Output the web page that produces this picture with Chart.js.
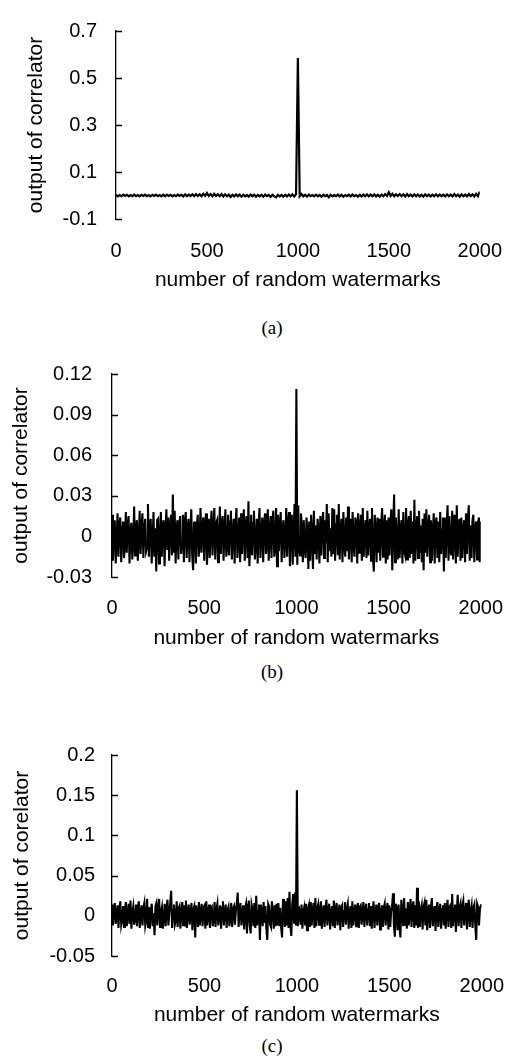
<!DOCTYPE html>
<html>
<head>
<meta charset="utf-8">
<script src="https://cdn.jsdelivr.net/npm/chart.js@4.4.1/dist/chart.umd.min.js"></script>
<style>
  body { margin: 0; background: #fff; width: 522px; height: 1061px; position: relative; overflow: hidden; }
  .box { position: absolute; left: 0; width: 522px; }
  .cap { position: absolute; left: 0; width: 544px; text-align: center; font: 19px "Liberation Serif", "Times New Roman", serif; color: #000; line-height: 1; }
</style>
</head>
<body>
<div class="box" style="top:0;height:300px"><canvas id="chartA" width="522" height="300"></canvas></div>
<div class="cap" style="top:318px">(a)</div>
<div class="box" style="top:340px;height:320px"><canvas id="chartB" width="522" height="320"></canvas></div>
<div class="cap" style="top:662px">(b)</div>
<div class="box" style="top:720px;height:310px"><canvas id="chartC" width="522" height="310"></canvas></div>
<div class="cap" style="top:1036px">(c)</div>

<script>
// x axis: number of random watermarks (0..2000)
const xTicks = [0, 500, 1000, 1500, 2000];
const xMax = 2000;

// (a) correlator output, one value read every 10 watermarks
const corrA = [
  .003,-.004,.002,-.003,.004,-.002,.003,-.004,.002,-.003,
  .004,-.003,.002,-.004,.003,-.002,.004,-.003,.002,-.004,
  .003,-.002,.004,-.003,.002,-.004,.003,-.003,.004,-.002,
  .003,-.004,.002,-.003,.004,-.002,.003,-.004,.005,-.003,
  .004,-.002,.005,-.003,.006,-.002,.005,-.003,.007,-.002,
  .010,-.002,.006,-.003,.007,-.002,.005,-.003,.006,-.004,
  .005,-.003,.004,-.006,.003,-.004,.005,-.003,.004,-.005,
  .003,-.004,.002,-.005,.004,-.003,.003,-.005,.002,-.004,
  .003,-.005,.004,-.003,.002,-.006,.003,-.004,-.008,.003,
  -.004,.002,-.005,.003,-.004,.004,-.003,.005,-.004,.006,
  .585,-.003,.006,-.004,.003,-.005,.004,-.003,.002,-.004,
  .003,-.004,.002,-.005,.003,-.003,.002,-.007,.003,-.004,
  .002,-.003,.004,-.004,.003,-.005,.002,-.003,.003,-.004,
  .004,-.003,.002,-.005,.003,-.004,.004,-.003,.005,-.004,
  .004,-.003,.005,-.004,.003,-.005,.004,-.003,.006,-.002,
  .014,-.002,.007,-.003,.005,-.002,.006,-.003,.005,-.004,
  .006,-.003,.004,-.004,.005,-.003,.004,-.004,.003,-.005,
  .005,-.003,.004,-.004,.003,-.003,.005,-.004,.004,-.003,
  .003,-.004,.005,-.003,.004,-.004,.006,-.003,.004,-.005,
  .005,-.003,.004,-.004,.006,-.003,.005,-.004,.007,-.003,
  .016
];
const yTicksA = [-0.1, 0.1, 0.3, 0.5, 0.7];

// (b) correlator output, one value read every 5 watermarks
const corrB = [
  .016,-.018,.005,.012,-.020,-.004,.017,-.015,.008,.014,-.019,.002,.011,-.016,-.007,.018,-.012,.009,.015,-.020,
  .003,.010,-.017,-.006,.022,-.014,.007,.012,-.018,-.003,.019,-.013,.006,.017,-.016,.004,.013,-.011,-.008,.024,
  -.015,.009,.013,-.020,-.005,.018,-.015,.006,-.026,.012,.013,-.020,-.002,.018,-.015,.008,.012,-.022,.004,.020,
  -.010,.014,-.018,.007,.016,-.014,.031,-.012,.019,-.020,.005,.012,-.017,.009,.015,-.013,-.004,.016,-.019,.011,
  .018,-.016,.006,.013,-.019,.003,.020,-.014,-.025,.010,.011,-.020,.008,.016,-.015,-.006,.021,-.012,.005,.014,
  -.018,.009,.017,-.021,-.004,.013,-.016,.007,.019,-.014,.003,.021,-.017,.010,.012,-.019,-.005,.022,-.013,.008,
  .015,-.018,.004,.020,-.015,-.007,.016,-.014,.011,.019,-.017,.002,.013,-.020,.009,.021,-.016,-.003,.014,-.019,
  .017,-.013,.006,.020,-.018,.008,.015,-.016,.026,-.022,-.005,.016,-.014,.010,.019,-.017,-.004,.013,-.020,.007,
  .021,-.016,.003,.014,-.019,.009,.017,-.013,-.006,.020,-.018,.004,.015,-.016,.012,.019,-.015,-.008,.021,-.022,
  .016,-.011,.008,.018,-.019,.005,.012,-.016,-.003,.021,-.015,.010,.018,-.022,.007,.016,-.021,.004,.024,-.015,
  .109,-.021,.023,-.010,-.014,.017,.006,-.019,.012,-.008,-.016,.014,.004,-.024,.011,-.018,.016,.002,-.024,.019,
  -.013,.008,-.017,.013,.004,-.020,.015,-.014,.009,.018,-.016,.012,-.005,.024,-.019,.017,-.011,.006,-.015,.021,
  -.013,.020,-.018,.009,.016,-.014,.024,-.017,.005,.013,-.019,.018,-.006,-.015,.014,-.011,.022,-.017,.008,.013,
  -.019,.018,-.004,-.015,.014,.010,-.020,.017,-.012,.006,.016,-.018,.021,-.015,.003,.012,-.016,.019,-.014,.008,
  .013,-.018,.021,-.015,-.026,.016,.005,-.019,.014,-.012,.013,-.018,.009,.021,-.015,.004,.016,-.020,.012,-.017,
  .014,-.014,.010,.020,-.025,.006,.031,-.019,.014,-.008,-.017,.020,-.016,.003,.012,-.020,.018,-.011,-.014,.021,
  -.017,.008,.015,-.016,.019,-.013,.011,-.020,.027,-.018,.004,.015,-.016,.019,-.012,.008,-.019,.013,-.025,.017,
  -.012,.020,-.015,.006,.016,-.019,.012,-.018,.003,.017,-.020,.009,.014,-.016,.011,-.019,.018,-.013,.005,.014,
  -.026,.014,-.016,.007,.023,-.018,.015,-.010,-.014,.019,-.017,.016,.004,-.020,.023,-.015,.009,.013,-.018,.014,
  -.016,.005,.012,-.019,.017,-.013,.011,.023,-.018,.008,-.016,.012,.016,-.019,.006,.011,-.017,.010,.014,-.019,
  .011
];
const yTicksB = [-0.03, 0, 0.03, 0.06, 0.09, 0.12];

// (c) correlator output, one value read every 5 watermarks
const corrC = [
  .014,-.012,.006,.016,-.010,.003,.013,-.015,.009,.018,-.011,-.004,.012,-.014,.007,.017,-.013,.002,.015,-.010,
  .019,-.016,.005,.012,-.011,-.003,.014,-.013,.008,.018,-.015,.004,.013,-.012,.010,.016,-.012,-.005,.021,-.014,
  .011,-.016,.006,.015,-.013,.003,-.024,.012,.016,-.012,.009,.021,-.014,.005,.011,-.016,-.002,.015,-.013,.008,
  .020,-.012,.004,.016,.031,-.015,.007,.014,-.011,-.006,.018,-.014,.009,.012,-.016,.004,.017,-.013,.013,-.012,
  .019,-.015,.005,.014,-.011,.002,.016,-.018,.008,.012,-.027,.013,.006,-.014,.017,-.012,.004,.015,-.013,.011,
  .013,-.016,.018,-.012,.003,.014,-.015,.009,.011,-.013,-.004,.017,-.014,.008,.015,-.012,.002,.013,-.016,.010,
  .018,-.012,.005,.014,-.015,.007,.011,-.013,-.003,.016,-.014,.009,.012,-.011,.006,.015,.029,-.014,.008,.016,
  -.012,.004,.013,-.017,.010,.015,-.022,.006,.019,-.011,-.022,.014,.008,-.013,.016,-.015,.025,-.012,.006,.014,
  -.030,.014,.004,-.013,.017,-.009,.012,-.016,-.030,.015,.012,-.011,-.014,.018,.005,-.016,.013,-.013,.015,-.012,
  .016,-.013,.010,-.015,-.027,.021,.008,-.014,.018,-.012,.022,-.015,.030,-.012,-.025,.014,.027,-.010,.029,-.012,
  .156,-.013,.012,.004,-.011,.014,-.016,.006,.011,-.012,.015,-.018,.008,.013,-.014,.017,-.012,.005,.016,-.015,
  .022,-.013,.009,.014,-.011,.006,.018,-.016,.004,.013,-.014,.010,.020,-.012,.007,.015,-.017,.003,.012,-.013,
  .019,-.015,.008,.016,-.012,.004,.014,-.018,.010,.013,-.014,.006,.017,-.011,.009,.015,-.016,.003,.012,-.015,
  .018,-.012,.005,.014,-.013,.009,.016,-.015,.011,.013,-.011,.004,.017,-.014,.006,.015,-.012,.008,.016,-.013,
  .012,-.016,.007,.018,-.015,.005,.014,-.012,.009,.016,-.017,.003,.013,-.014,.010,.015,-.012,.006,.016,-.017,
  .013,-.014,.006,.012,.028,-.012,-.026,.015,.008,-.018,.014,-.013,-.027,.020,.006,-.013,.022,-.011,.009,-.016,
  .017,-.012,.005,.021,-.014,.010,.018,-.015,.013,-.012,.035,-.015,.018,-.014,.007,.013,-.017,.011,.016,-.012,
  .020,-.018,.006,.014,-.015,.009,.022,-.013,.004,.012,-.019,.010,.017,-.014,.006,.015,-.016,.008,.013,-.012,
  .016,-.016,.005,.020,-.014,.011,.013,-.015,.027,-.013,.009,.014,-.020,.006,.026,-.013,.010,.015,-.015,.012,
  .018,-.012,.004,.016,-.017,.008,.020,-.014,.006,.013,-.015,.010,.014,-.012,-.030,.015,.011,-.012,.008,.013,
  .013
];
const yTicksC = [-0.05, 0, 0.05, 0.1, 0.15, 0.2];

const xTitle = "number of random watermarks";
const fontFamily = "'Liberation Sans', Arial, sans-serif";

// short tick marks pointing into the plot, like the original
const inwardTicks = {
  id: "inwardTicks",
  afterDraw(chart) {
    const ys = chart.scales.y;
    const ctx = chart.ctx;
    const x0 = chart.chartArea.left;
    ctx.save();
    ctx.strokeStyle = "#000";
    ctx.lineWidth = 1.5;
    ys.ticks.forEach(function (t) {
      const py = Math.round(ys.getPixelForValue(t.value)) + 0.5;
      ctx.beginPath();
      ctx.moveTo(x0, py);
      ctx.lineTo(x0 + 6, py);
      ctx.stroke();
    });
    ctx.restore();
  },
};

function makeChart(id, values, yTicks, yTitle, g) {
  const step = xMax / (values.length - 1);
  const pts = values.map(function (v, i) { return { x: i * step, y: v }; });
  return new Chart(document.getElementById(id), {
    type: "line",
    data: {
      datasets: [{
        data: pts,
        borderColor: "#000",
        borderWidth: g.lineW,
        pointRadius: 0,
        tension: 0,
      }],
    },
    options: {
      responsive: false,
      animation: false,
      events: [],
      layout: { padding: { top: g.top, right: g.right, left: 0, bottom: 0 } },
      plugins: { legend: { display: false }, tooltip: { enabled: false } },
      scales: {
        x: {
          type: "linear",
          min: 0,
          max: xMax,
          grid: { display: false, drawTicks: false },
          border: { display: false },
          afterBuildTicks: function (s) { s.ticks = xTicks.map(function (v) { return { value: v }; }); },
          afterFit: function (s) { s.height = g.xHeight; },
          ticks: {
            color: "#000",
            padding: g.xPad,
            maxRotation: 0,
            font: { family: fontFamily, size: 20 },
            callback: function (v) { return String(v); },
          },
          title: {
            display: true,
            text: xTitle,
            color: "#000",
            padding: { top: 0, bottom: g.xTitlePad },
            font: { family: fontFamily, size: 21 },
          },
        },
        y: {
          min: yTicks[0],
          max: yTicks[yTicks.length - 1],
          grid: { display: false, drawTicks: false },
          border: { display: true, color: "#000", width: 1.3 },
          afterBuildTicks: function (s) { s.ticks = yTicks.map(function (v) { return { value: v }; }); },
          afterFit: function (s) { s.width = g.left; },
          ticks: {
            color: "#000",
            padding: g.yPad,
            font: { family: fontFamily, size: 20 },
            callback: function (v) { return String(v); },
          },
          title: {
            display: true,
            text: yTitle,
            color: "#000",
            padding: { top: g.yTitlePad, bottom: 0 },
            font: { family: fontFamily, size: 21 },
          },
        },
      },
    },
    plugins: [inwardTicks],
  });
}

makeChart("chartA", corrA, yTicksA, "output of correlator",
  { top: 16, right: 25, left: 116, xHeight: 81, xPad: 20, xTitlePad: 7, yPad: 19, yTitlePad: 24, lineW: 2.2 });
makeChart("chartB", corrB, yTicksB, "output of correlator",
  { top: 34, right: 37, left: 112, xHeight: 83, xPad: 19, xTitlePad: 9, yPad: 20, yTitlePad: 9, lineW: 2.1 });
makeChart("chartC", corrC, yTicksC, "output of corelator",
  { top: 35, right: 39, left: 112, xHeight: 74, xPad: 18, xTitlePad: 2, yPad: 17, yTitlePad: 10, lineW: 2.1 });
</script>
</body>
</html>
